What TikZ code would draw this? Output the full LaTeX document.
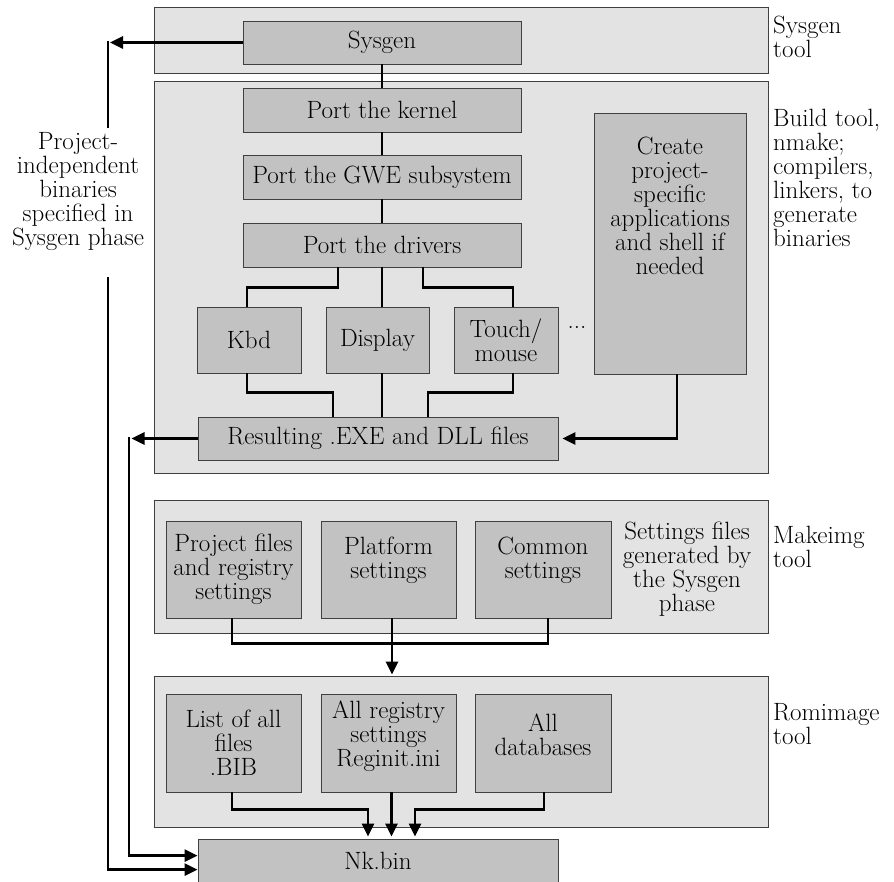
\documentclass[tikz,border=0pt]{standalone}
\usepackage{fontspec}
\usetikzlibrary{arrows.meta}
\tikzset{
  panel/.style={draw=black!75, line width=0.8pt, fill=gray!22, inner sep=0pt},
  box/.style={draw=black!75, line width=0.8pt, fill=gray!48, inner sep=0pt, align=center},
  lbl/.style={inner sep=0pt, align=center},
  side/.style={inner sep=0pt, align=left, anchor=west},
  conn/.style={line width=2.8pt},
  arr/.style={conn, -{Triangle[length=13pt,width=12pt]}},
}
\begin{document}
\begin{tikzpicture}[x=1pt, y=-1pt, every node/.append style={font=\fontsize{25}{24}\selectfont}]
\useasboundingbox (0,0) rectangle (894,882);
\fill[white] (0,0) rectangle (894,882);
\begin{scope}
\clip (0,0) rectangle (894,882);

% panels
\node[panel, minimum width=614pt, minimum height=66pt] (p1) at (461,40) {};
\node[panel, minimum width=614pt, minimum height=392pt] (p2) at (461,277) {};
\node[panel, minimum width=614pt, minimum height=133pt] (p3) at (461,566.5) {};
\node[panel, minimum width=614pt, minimum height=151pt] (p4) at (461,751.5) {};

% build boxes
\node[box, minimum width=278pt, minimum height=43pt] (sysgen) at (382,42.5) {Sysgen};
\node[box, minimum width=278pt, minimum height=44pt] (kernel) at (382,110) {Port the kernel};
\node[box, minimum width=278pt, minimum height=44pt] (gwe) at (382,177) {Port the GWE subsystem};
\node[box, minimum width=278pt, minimum height=44pt] (drivers) at (382,245) {Port the drivers};
\node[box, minimum width=104pt, minimum height=66pt] (kbd) at (249,340) {Kbd};
\node[box, minimum width=103pt, minimum height=66pt] (display) at (377.5,340) {Display};
\node[box, minimum width=104pt, minimum height=66pt] (touch) at (506,340) {Touch/\\mouse};
\node[lbl] (dots) at (577,327) {...};
\node[box, minimum width=152pt, minimum height=261pt] (create) at (670,243.5) {};
\node[lbl] (createtxt) at (670,206) {Create\\project-\\specific\\applications\\and shell if\\needed};
\node[box, minimum width=360pt, minimum height=43pt] (result) at (378,438.5) {Resulting .EXE and DLL files};

% makeimg boxes
\node[box, minimum width=135pt, minimum height=97pt] (project) at (233.5,569.5) {Project files\\and registry\\settings};
\node[box, minimum width=135pt, minimum height=97pt] (platform) at (388.5,569.5) {};
\node[lbl] (platformtxt) at (388.5,560) {Platform\\settings};
\node[box, minimum width=136pt, minimum height=97pt] (common) at (543,569.5) {};
\node[lbl] (commontxt) at (543,560) {Common\\settings};
\node[lbl] (settingstxt) at (687,569) {Settings files\\generated by\\the Sysgen\\phase};

% romimage boxes
\node[box, minimum width=135pt, minimum height=98pt] (list) at (233.5,743) {List of all\\files\\.BIB};
\node[box, minimum width=135pt, minimum height=98pt] (registry) at (388.5,743) {};
\node[lbl] (registrytxt) at (388.5,736) {All registry\\settings\\Reginit.ini};
\node[box, minimum width=136pt, minimum height=98pt] (databases) at (543,743) {};
\node[lbl] (databasestxt) at (543,735) {All\\databases};

\node[box, minimum width=360pt, minimum height=70pt] (nk) at (378,874) {};
\node[lbl] (nktxt) at (378,861) {Nk.bin};

% side labels
\node[side] (l1) at (773,37) {Sysgen\\tool};
\node[side] (l2) at (773,178) {Build tool,\\nmake;\\compilers,\\linkers, to\\generate\\binaries};
\node[side] (l3) at (773,547) {Makeimg\\tool};
\node[side] (l4) at (773,724) {Romimage\\tool};
\node[lbl] (leftlbl) at (78,192) {Project-\\independent\\binaries\\specified in\\Sysgen phase};

% connectors in build panel
\draw[conn] (sysgen) -- (kernel);
\draw[conn] (kernel) -- (gwe);
\draw[conn] (gwe) -- (drivers);
\draw[conn] ([xshift=-44pt]drivers.south) -- ++(0,20) -| ([xshift=-2pt]kbd.north);
\draw[conn] (drivers.south) -- (drivers.south |- display.north);
\draw[conn] ([xshift=41pt]drivers.south) -- ++(0,20) -| ([xshift=7pt]touch.north);
\draw[conn] ([xshift=-2pt]kbd.south) -- ++(0,19) -| ([xshift=-45pt]result.north);
\draw[conn] (drivers.south |- display.south) -- (drivers.south |- result.north);
\draw[conn] ([xshift=7pt]touch.south) -- ++(0,19) -| ([xshift=50pt]result.north);
\draw[arr] ([xshift=7pt]create.south) |- ([xshift=4pt]result.east);

% left feedback lines
\coordinate (a1) at (129,438.5);
\coordinate (a2) at (108,42.5);
\coordinate (g1) at (108,128);
\coordinate (g2) at (108,277);
\draw[arr] (sysgen.west) -- ([xshift=2pt]a2);
\draw[conn] ([yshift=1.4pt]a2) -- (g1);
\draw[arr] (g2) |- ([yshift=-31pt]nk.north west);
\draw[arr] (result.west) -- ([xshift=2.5pt]a1);
\draw[arr] ([yshift=1.4pt]a1) |- ([yshift=-17pt]nk.north west);

% makeimg connectors
\draw[conn] ([xshift=-1.5pt]project.south) -- ++(0,25) -| ([xshift=5pt]common.south);
\draw[arr] ([xshift=3.5pt]platform.south) -- ([xshift=3.5pt,yshift=1pt]platform.south |- p4.north);

% romimage connectors
\draw[arr] ([xshift=-1.5pt]list.south) -- ++(0,17) -| ([xshift=-10pt,yshift=2pt]nk.north);
\draw[arr] ([xshift=3pt]registry.south) -- ([xshift=3pt,yshift=2pt]registry.south |- nk.north);
\draw[arr] ([xshift=1pt]databases.south) -- ++(0,17) -| ([xshift=37pt,yshift=2pt]nk.north);
\end{scope}
\end{tikzpicture}
\end{document}
